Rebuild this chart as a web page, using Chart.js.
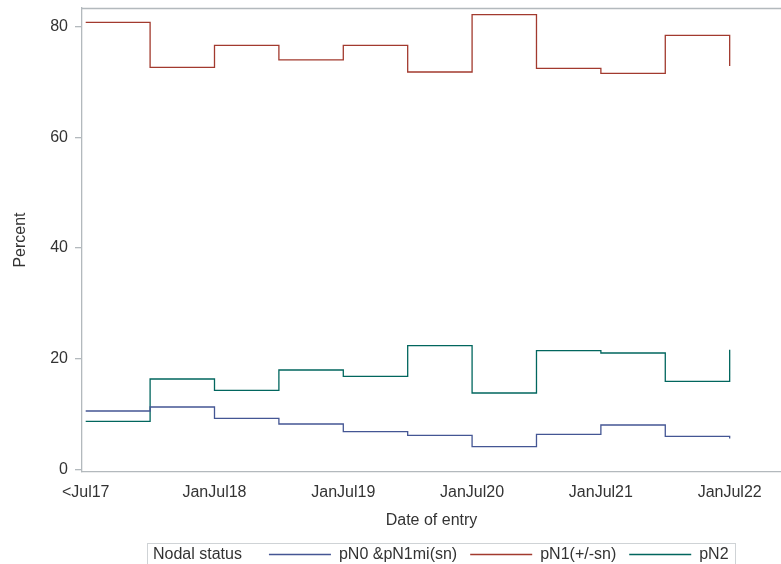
<!DOCTYPE html>
<html>
<head>
<meta charset="utf-8">
<script src="https://cdn.jsdelivr.net/npm/chart.js@4.4.1/dist/chart.umd.min.js"></script>
<style>
  html, body { margin: 0; padding: 0; background: #fff; }
</style>
</head>
<body>
<canvas id="grafico" width="781" height="564"></canvas>
<script>
// periodos (semestres) e rotulos do eixo x
const periodos = [0, 1, 2, 3, 4, 5, 6, 7, 8, 9, 10];
const rotulos = ['<Jul17', '', 'JanJul18', '', 'JanJul19', '', 'JanJul20', '', 'JanJul21', '', 'JanJul22'];
const ticksY = [0, 20, 40, 60, 80];

// percentuais por status nodal
const pN0 = [10.55, 11.27, 9.21, 8.2, 6.81, 6.14, 4.1, 6.32, 8.02, 5.96, 5.6];
const pN1 = [80.76, 72.63, 76.6, 74.0, 76.6, 71.8, 82.15, 72.45, 71.55, 78.4, 72.9];
const pN2 = [8.67, 16.33, 14.27, 17.96, 16.8, 22.35, 13.8, 21.45, 21.03, 15.9, 21.6];

const nomesSeries = ['pN0 &pN1mi(sn)', 'pN1(+/-sn)', 'pN2'];
const coresSeries = ['#445694', '#A23A2E', '#01665E'];
const tituloLegenda = 'Nodal status';

const fonte = '"Liberation Sans", Arial, sans-serif';
const corEixo = '#b3b9bd';
const corTexto = '#333333';

function montarSerie(valores) {
  return periodos.map((p, i) => ({ x: p, y: valores[i] }));
}

// legenda estilo SAS e moldura superior
const legendaPlugin = {
  id: 'legendaSas',
  afterDraw(chart) {
    const ctx = chart.ctx;
    const area = chart.chartArea;
    ctx.save();

    ctx.strokeStyle = corEixo;
    ctx.lineWidth = 1.3;
    ctx.beginPath();
    ctx.moveTo(area.left, area.top + 0.5);
    ctx.lineTo(area.right, area.top + 0.5);
    ctx.stroke();

    ctx.strokeStyle = '#cfd3d6';
    ctx.lineWidth = 1;
    ctx.strokeRect(147.5, 543.5, 588, 30);

    ctx.font = '16px ' + fonte;
    ctx.fillStyle = corTexto;
    ctx.textBaseline = 'middle';
    const y = 554.5;
    ctx.fillText(tituloLegenda, 153, y);
    let x = 153 + ctx.measureText(tituloLegenda).width + 27;
    chart.data.datasets.forEach(ds => {
      ctx.strokeStyle = ds.borderColor;
      ctx.lineWidth = 1.3;
      ctx.beginPath();
      ctx.moveTo(x, y);
      ctx.lineTo(x + 62, y);
      ctx.stroke();
      x += 62 + 8;
      ctx.fillText(ds.label, x, y);
      x += ctx.measureText(ds.label).width + 13;
    });
    ctx.restore();
  }
};

function semSobra(scale) {
  scale.paddingTop = 0;
  scale.paddingBottom = 0;
  scale.paddingLeft = 0;
  scale.paddingRight = 0;
}

const ctx = document.getElementById('grafico').getContext('2d');
const grafico = new Chart(ctx, {
  type: 'line',
  data: {
    datasets: [pN0, pN1, pN2].map((valores, i) => ({
      label: nomesSeries[i],
      data: montarSerie(valores),
      borderColor: coresSeries[i],
      backgroundColor: coresSeries[i],
      borderWidth: 1.3,
      pointRadius: 0,
      stepped: true,
      fill: false
    }))
  },
  options: {
    responsive: false,
    animation: false,
    layout: { padding: { top: 8, left: 0, right: 0, bottom: 0 } },
    plugins: {
      legend: { display: false },
      tooltip: { enabled: false }
    },
    scales: {
      x: {
        type: 'linear',
        min: -0.0575,
        max: 10.797,
        afterBuildTicks: scale => { scale.ticks = periodos.filter(p => rotulos[p]).map(p => ({ value: p })); },
        afterFit: scale => { scale.height = 92; semSobra(scale); },
        grid: { display: false },
        border: { color: corEixo, width: 1.3 },
        ticks: {
          autoSkip: false,
          maxRotation: 0,
          padding: 3,
          color: corTexto,
          font: { family: fonte, size: 16 },
          callback: v => rotulos[v] || ''
        },
        title: {
          display: true,
          text: 'Date of entry',
          color: corTexto,
          font: { family: fonte, size: 16 },
          padding: { top: 0, bottom: 33.5 }
        }
      },
      y: {
        min: -0.47,
        max: 83.36,
        afterBuildTicks: scale => { scale.ticks = ticksY.map(v => ({ value: v })); },
        afterFit: scale => { scale.width = 82; semSobra(scale); },
        grid: { drawOnChartArea: false, drawTicks: true, tickLength: 7, color: corEixo, lineWidth: 1.3 },
        border: { color: corEixo, width: 1.3 },
        ticks: {
          padding: 7,
          color: corTexto,
          font: { family: fonte, size: 16 }
        },
        title: {
          display: true,
          text: 'Percent',
          color: corTexto,
          font: { family: fonte, size: 16 },
          padding: { top: 11, bottom: 0 }
        }
      }
    }
  },
  plugins: [legendaPlugin]
});
</script>
</body>
</html>
